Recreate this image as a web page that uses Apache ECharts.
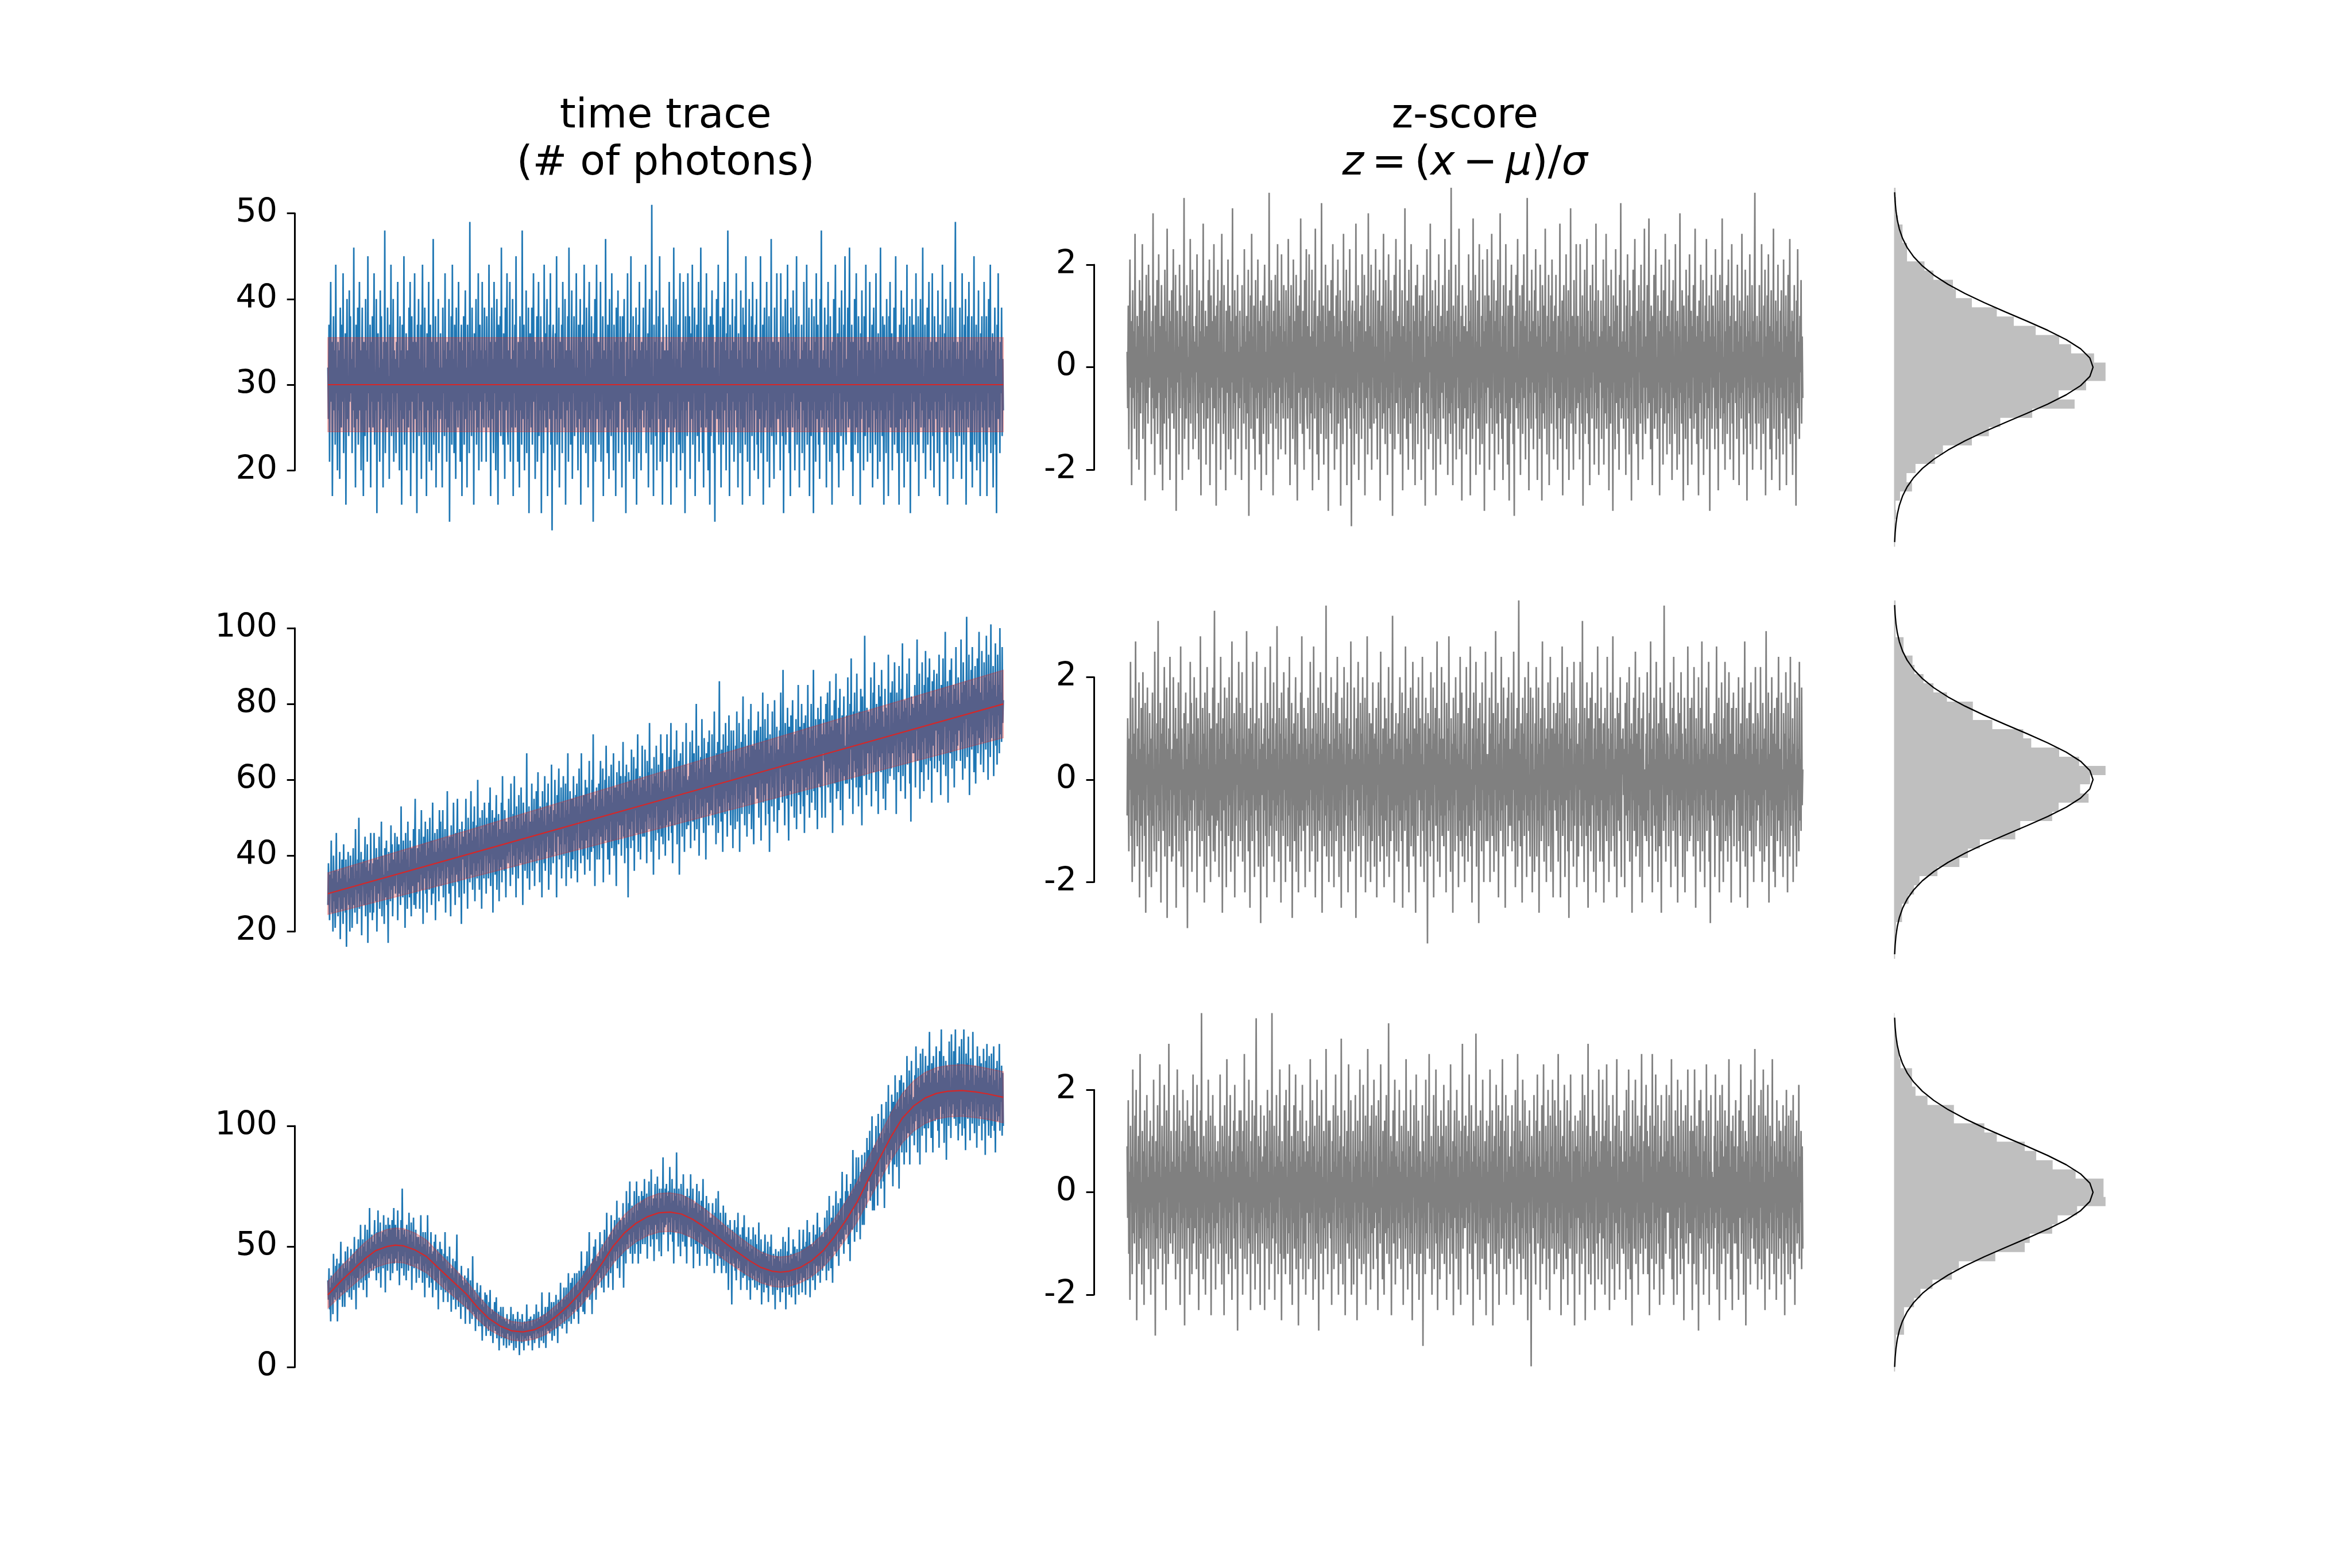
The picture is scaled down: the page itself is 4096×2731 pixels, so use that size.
<!DOCTYPE html>
<html><head><meta charset="utf-8">
<script src="https://cdn.jsdelivr.net/npm/echarts@6/dist/echarts.min.js"></script>
<style>html,body{margin:0;padding:0;background:#fff}#c{width:4096px;height:2731px}</style>
</head><body><div id="c"></div>
<script>
// ---------------- data ----------------
const panelTitles = ['time trace', '(# of photons)', 'z-score'];
const traceTicks = [[20, 50, 10], [20, 100, 20], [0, 100, 50]];
const zTicks = [-2, 2, 2];

const trace1 = [
32,26,37,21,33,42,28,35,17,31,38,27,34,23,44,29,32,20,35,27,34,19,39,31,25,37,28,43,22,33,29,36,16,32,40,26,31,24,41,28,
38,29,33,22,35,27,46,25,32,18,37,33,26,39,23,30,42,27,34,20,32,39,28,17,35,31,24,40,27,34,21,45,29,33,25,37,18,35,28,38,
25,33,43,23,31,27,40,15,34,36,28,32,21,41,26,38,29,33,18,35,27,48,22,32,35,25,39,28,31,19,37,26,44,24,33,29,40,21,34,28,
33,22,35,29,42,25,32,20,38,27,34,16,37,31,26,45,23,33,28,36,20,34,31,25,39,27,42,17,32,38,28,35,22,32,43,26,35,29,15,37,
29,40,24,33,27,37,19,34,44,28,31,23,39,25,32,17,36,33,27,42,21,32,37,29,20,35,28,47,23,33,26,38,18,31,35,27,40,22,32,26,
36,27,32,18,39,29,34,24,43,26,33,21,35,31,25,40,14,34,28,38,23,44,28,33,22,37,30,19,39,27,32,25,42,27,35,21,33,37,17,34,
28,38,23,33,41,26,32,18,37,29,35,22,49,27,32,24,39,28,34,16,36,27,31,40,23,33,25,43,20,31,37,28,34,21,42,26,33,25,39,29,
34,21,38,28,32,25,44,27,35,17,31,39,26,33,22,42,29,35,20,32,40,26,16,37,32,27,38,24,46,28,33,23,36,29,19,39,27,32,43,25,
23,34,28,42,21,33,31,25,40,17,34,29,37,25,45,27,32,21,35,30,18,38,27,35,23,48,26,31,37,20,33,28,41,22,34,26,39,15,32,36,
31,25,39,23,33,43,28,35,19,33,29,38,21,32,42,24,34,27,38,15,35,29,32,22,44,27,36,25,31,40,17,34,28,37,26,43,23,33,13,35,
37,27,32,20,36,26,45,23,33,29,39,18,32,35,26,37,22,42,28,33,25,40,16,34,31,27,38,21,46,28,34,23,32,41,19,33,29,38,24,32,
27,43,25,32,20,37,31,26,40,16,35,28,37,23,33,44,25,31,22,39,28,34,18,35,42,26,32,23,38,27,33,14,36,29,40,21,32,44,26,35,
32,23,35,28,42,21,33,29,38,17,34,31,25,47,27,33,22,37,28,19,40,26,34,24,43,27,31,20,37,28,35,17,39,32,25,41,22,33,28,38,
28,35,18,38,26,33,40,23,31,15,35,27,43,25,33,21,36,29,45,23,32,27,38,19,34,32,25,39,16,33,29,37,22,42,26,34,20,35,31,27,
39,25,33,28,44,22,34,27,36,18,32,40,25,32,23,51,26,31,17,37,28,35,24,41,20,33,29,38,26,45,21,33,27,35,16,39,31,23,34,29,
26,37,21,34,31,25,42,28,35,16,38,28,33,22,46,25,32,26,40,18,33,29,37,23,34,43,20,32,27,35,22,42,28,34,15,38,27,35,24,43,
33,28,38,19,32,36,26,44,23,33,29,39,17,35,27,37,24,31,42,21,34,27,46,25,32,22,35,18,39,29,34,25,43,26,32,20,37,28,16,38,
24,33,41,27,37,22,32,14,35,28,40,26,33,44,23,31,26,38,18,35,28,39,23,32,42,27,34,20,36,29,48,25,33,17,37,27,34,23,40,28,
35,21,31,38,27,43,25,33,18,36,28,34,22,41,26,32,16,39,30,25,37,23,45,28,33,21,35,29,40,17,33,27,38,24,42,29,35,20,32,37,
27,40,23,32,19,35,33,26,45,22,34,28,37,16,32,39,25,31,27,42,21,35,29,38,18,33,25,47,24,32,35,26,19,39,28,34,23,43,26,32,
35,26,32,20,43,27,34,24,38,15,33,29,40,23,32,27,44,25,36,22,33,17,39,28,35,25,41,29,34,20,37,27,45,23,32,26,38,18,33,28,
29,37,22,34,27,42,20,32,35,25,44,23,33,28,39,17,34,31,24,40,27,33,15,38,28,35,21,43,26,31,37,23,32,19,40,27,48,25,33,26,
34,23,39,28,33,18,37,27,42,25,32,21,38,28,34,16,35,29,40,23,33,44,26,31,22,36,27,18,39,29,35,24,41,26,32,20,37,28,45,25,
23,33,28,39,25,32,46,26,35,21,37,29,17,35,27,40,23,33,43,25,31,22,38,28,34,16,36,26,41,28,33,20,38,29,24,44,27,34,21,35,
32,25,42,22,34,28,37,18,33,39,27,31,23,43,26,35,19,36,28,33,21,46,27,32,24,38,29,16,37,26,34,22,40,28,33,17,38,27,42,25,
27,36,20,34,29,39,23,32,45,25,33,22,35,28,16,37,31,26,41,22,34,28,39,18,33,25,37,27,44,21,32,35,26,38,15,33,29,40,23,32,
37,28,33,21,43,26,32,23,38,17,35,29,40,25,33,27,46,22,31,25,37,19,34,28,39,23,32,42,26,34,20,35,27,43,24,32,18,38,28,35,
26,35,22,41,28,33,17,37,27,34,25,44,27,32,21,36,29,40,23,33,16,38,28,34,25,42,22,32,29,39,19,35,27,37,49,24,33,21,35,28,
33,24,39,27,35,19,43,26,31,23,37,28,40,16,33,26,38,25,42,28,34,21,32,38,18,34,27,45,23,32,29,37,20,35,27,41,22,33,17,36,
28,38,25,32,21,42,27,34,23,38,17,33,29,40,25,32,44,22,34,27,36,18,35,28,39,23,31,15,37,26,43,26,33,22,35,29,39,24,33,27];

const trace2 = [
27,38,33,23,35,30,44,25,34,20,40,28,36,21,31,46,26,33,24,36,29,41,18,34,26,39,32,22,43,29,35,25,39,16,33,30,41,27,34,20,
40,29,37,21,35,42,27,34,25,47,31,36,22,39,30,50,26,34,28,41,19,38,32,39,27,35,45,24,37,30,43,17,36,29,38,25,46,31,35,23,
38,25,46,32,39,28,42,20,36,39,30,45,26,37,33,49,24,40,31,35,22,42,29,38,44,27,36,17,41,32,38,28,48,31,43,24,35,39,32,46,
30,38,35,45,23,40,43,30,38,27,53,32,39,29,44,33,41,21,46,35,39,26,49,31,37,29,44,33,24,42,38,32,47,27,41,55,26,38,30,42,
39,33,47,26,41,35,52,31,43,22,45,38,34,49,30,40,25,47,36,42,31,50,34,44,27,39,54,30,41,36,46,23,41,32,47,37,42,28,52,34,
49,32,41,36,52,29,44,38,47,25,42,34,57,37,43,30,45,39,24,48,35,45,32,54,37,42,27,46,35,44,55,33,40,29,47,36,43,22,49,39,
39,45,30,47,37,55,34,43,26,50,40,46,33,43,57,35,44,31,49,38,53,28,45,36,48,34,60,38,42,31,50,39,47,26,52,36,43,34,54,40,
48,30,50,40,46,34,54,38,58,32,45,42,52,25,48,39,50,35,46,56,31,45,39,51,28,47,44,37,54,33,61,39,46,36,52,41,29,49,40,46,
38,55,41,46,32,59,43,49,35,51,40,61,37,47,29,53,42,50,34,56,39,47,38,58,41,48,27,54,43,49,36,51,40,67,34,46,41,53,31,49,
49,39,59,36,49,44,55,32,51,42,57,38,47,62,40,50,33,53,43,52,29,57,44,49,38,61,36,48,41,54,45,59,31,51,42,53,35,64,40,49,
38,52,46,60,41,51,29,56,45,53,63,39,50,43,58,34,54,47,61,40,50,43,59,32,52,45,67,37,51,41,57,45,34,55,49,39,61,44,53,36,
56,46,59,33,53,49,63,42,51,38,67,44,53,40,56,48,35,60,44,52,58,39,54,47,65,36,51,55,41,60,45,72,42,52,32,56,46,58,39,53,
47,59,39,54,65,45,55,42,63,33,53,48,60,44,69,47,57,39,52,61,35,56,49,64,42,54,44,67,40,52,58,46,32,62,49,57,43,65,48,54,
61,40,56,48,70,45,55,38,61,51,64,42,58,29,62,55,47,60,42,68,49,57,44,66,36,59,52,63,46,55,72,41,56,50,61,39,58,47,69,45,
53,60,45,68,49,57,38,65,51,62,47,75,50,56,41,63,52,59,35,66,50,61,44,69,53,59,46,64,39,58,48,72,45,56,67,43,57,50,62,40,
61,48,72,52,58,44,66,49,60,75,46,57,38,63,53,68,48,60,55,73,43,62,51,65,35,59,67,50,58,45,70,54,61,41,64,51,75,47,60,54,
48,61,55,70,42,64,52,73,49,61,67,44,62,56,80,47,60,51,69,40,63,55,66,50,76,53,59,46,71,55,64,39,67,54,61,70,48,73,51,62,
62,52,72,48,64,58,78,50,65,43,67,55,70,46,61,86,53,63,49,68,56,41,72,55,66,51,75,57,62,45,69,54,77,52,60,48,73,56,65,42,
73,56,62,47,69,59,78,49,65,55,75,41,66,60,70,51,64,82,54,63,48,72,57,67,45,69,59,76,51,66,56,80,47,63,69,55,43,73,58,68,
58,73,55,66,78,50,68,60,74,44,70,59,83,54,64,56,76,48,67,71,59,80,51,67,41,72,61,69,53,78,58,65,49,81,55,67,62,74,46,68,
67,52,73,63,83,57,69,54,89,59,67,48,75,61,71,55,79,59,44,74,66,57,77,53,70,81,60,67,50,72,62,76,47,69,59,85,56,67,74,51,
59,80,63,72,53,75,46,70,77,58,67,56,85,61,74,50,71,63,80,54,73,62,89,57,69,52,76,64,71,47,79,59,68,76,58,82,63,50,72,67,
76,65,72,50,80,62,69,83,58,72,63,86,54,74,66,77,46,73,64,81,59,70,88,55,75,67,57,79,63,84,52,72,62,77,48,71,82,61,69,59,
66,77,59,87,64,72,55,80,68,92,60,74,51,78,65,83,62,73,58,88,63,76,53,78,71,58,84,66,48,82,68,75,61,98,63,73,56,79,67,77,
78,60,74,67,87,53,77,69,83,62,91,64,75,57,80,68,76,51,85,66,73,82,62,89,67,78,55,74,64,84,52,79,70,77,59,93,67,73,61,83,
63,78,86,67,75,60,91,69,79,51,83,72,77,62,90,66,76,57,84,70,96,61,78,68,81,55,79,71,88,64,75,67,92,59,77,49,82,69,80,67,
79,67,85,58,82,73,97,65,78,68,88,55,80,75,62,91,70,81,57,85,71,94,64,77,67,87,60,79,92,72,65,82,54,86,69,76,89,63,79,73,
73,88,62,80,72,93,65,82,56,85,78,68,92,64,81,74,99,61,79,71,86,54,83,73,89,67,78,92,63,80,70,85,58,84,72,95,65,81,69,87,
87,73,80,65,97,70,83,60,91,75,85,63,86,76,103,66,81,71,93,56,82,74,89,68,95,72,85,62,79,90,59,84,73,92,67,80,99,71,83,64,
73,94,70,81,62,91,76,87,68,98,74,83,60,93,78,86,66,101,71,84,77,90,61,85,74,96,69,82,64,93,77,85,67,100,72,83,70,95,75,81];

const trace3 = [
36,28,41,24,33,19,38,30,35,22,47,29,35,28,42,31,45,19,37,33,43,28,39,52,31,37,25,43,32,41,25,48,36,41,31,50,34,40,29,44,
38,49,28,45,38,47,32,54,37,43,24,49,44,37,53,33,46,41,59,35,46,40,53,32,50,42,59,36,48,29,57,46,52,37,66,41,49,40,55,43,
52,40,50,61,42,51,36,56,45,65,39,54,47,60,33,52,45,56,41,63,46,55,31,59,47,54,40,62,45,51,59,36,57,47,61,39,53,66,43,51,
59,45,54,40,65,48,57,34,53,44,61,41,74,46,55,38,57,48,54,36,59,43,51,40,64,45,55,42,60,32,52,46,62,41,50,43,57,35,54,46,
43,54,37,51,46,63,40,50,35,56,42,51,29,56,43,48,37,63,40,47,33,50,41,56,35,47,29,48,43,52,36,55,32,44,37,49,24,47,40,52,
41,32,49,37,44,27,47,35,56,31,40,36,46,27,41,32,50,31,39,23,41,32,45,28,37,33,44,24,39,55,28,34,25,39,29,38,20,42,30,36,
25,34,29,38,18,35,27,37,24,41,24,30,18,36,27,32,20,46,23,29,22,32,15,28,20,35,23,29,17,31,22,34,17,26,11,28,21,25,17,31,
23,13,30,19,22,15,27,17,32,13,22,18,24,10,23,17,27,15,20,29,12,19,14,23,7,21,17,25,12,20,14,25,9,17,20,12,19,8,22,15,
14,18,9,20,13,25,10,17,14,22,7,18,14,20,8,16,12,23,11,17,5,20,14,17,10,22,13,16,7,19,12,18,11,26,13,16,9,20,13,17,
21,12,17,7,20,14,22,10,18,15,26,12,19,14,23,8,20,15,21,11,31,15,19,10,22,17,25,8,21,16,25,15,21,31,14,22,16,27,11,20,
19,27,13,23,20,30,16,24,10,28,21,27,17,35,20,25,16,28,22,33,18,28,21,33,14,29,24,39,19,27,25,35,18,30,37,23,28,20,39,24,
34,28,39,23,32,18,40,27,35,25,48,32,37,23,40,30,22,42,29,36,48,29,38,32,56,28,39,35,43,22,45,36,50,33,41,53,28,44,38,46,
34,46,39,56,37,45,33,51,41,48,31,57,42,50,38,64,41,48,33,54,46,55,39,63,44,53,32,57,48,61,44,55,48,69,41,57,50,62,37,57,
61,46,57,51,68,33,62,52,59,43,73,51,60,49,68,55,77,47,61,52,67,43,64,56,73,47,60,53,77,51,65,43,71,58,68,47,63,73,56,51,
71,57,78,51,66,59,72,45,67,55,77,59,64,50,82,57,67,53,70,44,66,76,59,70,53,79,57,66,48,74,62,70,46,74,60,87,55,67,58,74,
59,76,62,71,48,73,60,83,55,68,62,78,52,69,43,74,61,71,56,89,57,67,50,74,62,69,46,76,59,66,52,80,55,67,50,71,60,43,74,59,
64,54,71,57,80,50,66,60,74,41,66,56,68,51,62,76,47,64,54,73,42,65,56,69,50,63,78,51,60,47,66,52,71,42,60,54,68,47,62,56,
45,62,54,68,47,59,39,64,51,70,47,55,42,73,50,59,45,64,50,39,59,46,67,42,54,49,64,39,56,46,59,32,55,48,61,43,53,26,57,52,
52,43,61,40,50,36,58,45,64,41,51,44,55,32,50,40,58,37,48,63,38,49,42,54,32,50,44,58,36,48,28,53,39,49,36,58,38,45,33,55,
40,51,32,46,37,60,34,45,39,53,26,47,40,48,31,45,55,35,46,33,43,52,27,44,38,50,34,55,36,42,30,47,38,45,24,49,37,46,32,42,
48,36,44,27,49,35,41,31,54,36,43,33,52,24,43,38,48,34,58,30,43,38,47,29,45,36,53,33,42,50,26,46,41,49,35,44,30,57,36,45,
39,49,31,47,57,37,50,41,30,52,41,61,36,50,43,56,29,46,51,38,50,36,59,43,51,32,55,42,49,64,38,49,42,58,35,54,46,56,40,52,
54,42,62,48,56,36,65,45,53,40,71,46,59,41,62,51,35,67,50,60,48,59,73,46,61,55,68,42,63,52,70,51,63,81,53,61,47,68,57,73,
55,80,59,73,51,66,71,44,76,57,72,57,90,66,74,52,78,63,87,56,76,68,87,64,77,53,81,70,88,59,82,76,59,89,70,83,66,95,73,81,
90,77,98,69,85,73,104,65,83,91,65,92,80,100,75,89,67,105,79,97,87,95,74,109,81,93,77,103,66,97,92,110,84,99,88,117,80,97,86,106,
90,113,95,75,110,104,84,121,93,107,83,114,99,108,74,119,92,106,121,89,107,98,118,84,112,100,115,89,129,97,109,97,123,84,113,104,127,96,111,101,
112,92,121,102,133,105,117,89,124,99,116,84,130,107,121,96,132,104,118,99,114,129,89,121,106,125,99,116,139,103,118,95,126,111,89,129,107,122,102,117,
133,103,118,98,123,91,131,108,117,140,101,121,105,129,93,120,110,127,86,125,111,123,100,135,108,116,95,138,105,120,109,131,103,118,140,100,121,107,126,94,
109,133,101,123,111,136,96,120,105,140,99,117,90,130,108,126,103,137,107,119,94,128,110,124,101,139,106,117,97,125,112,121,91,133,109,120,100,129,104,117,
126,94,120,109,132,101,123,88,127,106,134,102,118,96,129,108,121,95,130,100,117,109,133,98,119,89,124,106,127,102,115,104,134,98,120,110,125,96,122,100];

const zscore1 = [
0.3,-0.8,1.2,-1.6,0.5,2.1,-0.4,0.9,-2.3,0.1,1.5,-0.6,0.7,-1.2,2.6,-0.2,0.4,-1.8,1.0,-0.5,0.8,-2.0,1.7,0.2,-0.9,1.3,-0.3,2.4,-1.4,0.6,-0.1,1.1,-2.6,0.4,1.8,-0.7,0.2,-1.1,2.0,-0.4,
1.4,-0.2,0.6,-1.5,0.9,-0.6,3.0,-1.0,0.3,-2.1,1.2,0.5,-0.8,1.7,-1.3,0.0,2.2,-0.5,0.8,-1.9,0.4,1.6,-0.3,-2.4,1.0,0.2,-1.1,1.9,-0.6,0.7,-1.6,2.7,-0.2,0.5,-1.0,1.3,-2.2,0.9,-0.4,1.5,
-0.9,0.6,2.3,-1.2,0.1,-0.5,1.8,-2.8,0.7,1.1,-0.3,0.4,-1.7,2.0,-0.8,1.4,-0.1,0.6,-2.2,1.0,-0.6,3.3,-1.4,0.3,0.9,-1.0,1.6,-0.4,0.2,-2.0,1.2,-0.7,2.5,-1.1,0.5,-0.2,1.9,-1.6,0.8,-0.3,
0.5,-1.4,1.0,-0.1,2.2,-0.9,0.4,-1.8,1.5,-0.5,0.7,-2.5,1.3,0.1,-0.7,2.8,-1.2,0.6,-0.3,1.1,-1.9,0.8,0.2,-1.0,1.7,-0.6,2.1,-2.3,0.4,1.4,-0.4,0.9,-1.5,0.3,2.4,-0.8,1.0,-0.2,-2.7,1.2,
-0.2,1.9,-1.1,0.5,-0.6,1.3,-2.0,0.8,2.6,-0.4,0.1,-1.3,1.6,-0.9,0.3,-2.4,1.1,0.6,-0.5,2.1,-1.6,0.4,1.2,-0.1,-1.8,0.9,-0.3,3.1,-1.2,0.6,-0.7,1.5,-2.1,0.2,1.0,-0.5,1.8,-1.4,0.3,-0.8,
1.1,-0.6,0.4,-2.2,1.6,-0.2,0.8,-1.1,2.3,-0.7,0.5,-1.6,1.0,0.2,-0.9,1.9,-2.9,0.7,-0.3,1.4,-1.2,2.6,-0.4,0.6,-1.4,1.2,0.0,-2.0,1.7,-0.6,0.3,-1.0,2.1,-0.5,0.9,-1.7,0.5,1.3,-2.4,0.8,
-0.4,1.4,-1.3,0.6,2.0,-0.8,0.3,-2.1,1.2,-0.2,0.9,-1.5,3.4,-0.6,0.4,-1.1,1.7,-0.3,0.7,-2.5,1.1,-0.5,0.2,1.8,-1.2,0.6,-0.9,2.4,-1.8,0.1,1.3,-0.4,0.8,-1.6,2.2,-0.7,0.5,-1.0,1.6,-0.2,
0.7,-1.7,1.5,-0.3,0.4,-1.0,2.5,-0.6,1.0,-2.3,0.2,1.6,-0.8,0.5,-1.4,2.1,-0.1,0.9,-1.9,0.3,1.8,-0.7,-2.6,1.2,0.4,-0.5,1.4,-1.1,2.9,-0.4,0.6,-1.3,1.1,-0.2,-2.0,1.7,-0.6,0.3,2.3,-0.9,
-1.2,0.8,-0.4,2.2,-1.6,0.6,0.1,-0.9,1.9,-2.4,0.7,-0.2,1.3,-1.0,2.7,-0.5,0.4,-1.7,1.0,0.0,-2.2,1.5,-0.6,0.9,-1.3,3.2,-0.8,0.2,1.2,-1.9,0.5,-0.3,2.0,-1.4,0.8,-0.7,1.6,-2.8,0.4,1.1,
0.2,-0.9,1.7,-1.3,0.5,2.4,-0.4,1.0,-2.0,0.6,-0.1,1.4,-1.6,0.3,2.1,-1.1,0.7,-0.5,1.5,-2.7,0.9,-0.2,0.4,-1.5,2.6,-0.6,1.1,-1.0,0.2,1.9,-2.3,0.8,-0.4,1.3,-0.8,2.3,-1.2,0.5,-3.1,1.0,
1.3,-0.5,0.3,-1.9,1.1,-0.7,2.8,-1.3,0.6,-0.1,1.6,-2.2,0.4,0.9,-0.8,1.2,-1.4,2.2,-0.3,0.5,-1.0,1.8,-2.5,0.7,0.1,-0.6,1.4,-1.7,3.0,-0.4,0.8,-1.2,0.3,2.0,-2.0,0.6,-0.2,1.5,-1.1,0.4,
-0.6,2.3,-1.0,0.4,-1.8,1.3,0.2,-0.7,1.9,-2.6,0.9,-0.3,1.2,-1.2,0.5,2.6,-0.9,0.1,-1.5,1.7,-0.4,0.7,-2.1,1.0,2.2,-0.8,0.3,-1.3,1.5,-0.5,0.6,-2.9,1.1,-0.1,1.8,-1.6,0.4,2.5,-0.7,0.9,
0.4,-1.3,1.0,-0.4,2.1,-1.7,0.6,-0.2,1.5,-2.4,0.8,0.2,-1.0,3.1,-0.6,0.5,-1.4,1.3,-0.3,-2.0,1.9,-0.8,0.7,-1.1,2.4,-0.5,0.1,-1.8,1.2,-0.3,0.9,-2.3,1.6,0.4,-0.9,2.0,-1.5,0.6,-0.4,1.4,
-0.3,0.9,-2.2,1.4,-0.7,0.5,1.8,-1.2,0.2,-2.7,1.0,-0.5,2.3,-0.9,0.6,-1.6,1.1,-0.1,2.8,-1.3,0.4,-0.6,1.5,-2.0,0.8,0.3,-1.0,1.7,-2.5,0.5,-0.2,1.2,-1.4,2.2,-0.8,0.7,-1.9,1.0,0.1,-0.5,
1.6,-1.0,0.5,-0.3,2.5,-1.5,0.8,-0.6,1.1,-2.1,0.3,1.9,-0.9,0.4,-1.3,3.5,-0.7,0.2,-2.3,1.2,-0.4,0.9,-1.1,2.0,-1.8,0.6,-0.2,1.4,-0.8,2.7,-1.6,0.5,-0.5,1.0,-2.6,1.6,0.2,-1.2,0.8,-0.1,
-0.8,1.2,-1.7,0.7,0.1,-1.0,2.2,-0.4,0.9,-2.5,1.5,-0.3,0.6,-1.4,2.9,-0.9,0.3,-0.7,1.8,-2.1,0.5,-0.2,1.3,-1.2,0.8,2.4,-1.9,0.4,-0.6,1.0,-1.5,2.1,-0.3,0.7,-2.8,1.4,-0.5,0.9,-1.1,2.3,
0.6,-0.4,1.4,-2.0,0.3,1.1,-0.8,2.6,-1.3,0.5,-0.1,1.7,-2.4,0.9,-0.6,1.3,-1.1,0.2,2.1,-1.7,0.7,-0.5,3.0,-0.9,0.4,-1.4,1.0,-2.2,1.6,-0.2,0.8,-1.0,2.4,-0.7,0.3,-1.9,1.2,-0.4,-2.6,1.5,
-1.1,0.5,2.0,-0.6,1.2,-1.5,0.4,-2.9,1.0,-0.3,1.8,-0.8,0.6,2.5,-1.2,0.1,-0.7,1.4,-2.1,0.9,-0.4,1.6,-1.3,0.3,2.2,-0.6,0.8,-1.8,1.1,-0.2,3.3,-1.0,0.5,-2.4,1.3,-0.5,0.7,-1.2,1.9,-0.3,
0.9,-1.6,0.2,1.5,-0.5,2.3,-1.0,0.6,-2.2,1.1,-0.3,0.8,-1.4,2.0,-0.7,0.4,-2.6,1.6,0.0,-0.9,1.2,-1.2,2.7,-0.4,0.5,-1.7,1.0,-0.1,1.8,-2.3,0.6,-0.6,1.4,-1.1,2.1,-0.2,0.9,-1.8,0.3,1.2,
-0.5,1.8,-1.2,0.3,-2.0,1.0,0.5,-0.8,2.8,-1.4,0.7,-0.3,1.3,-2.5,0.4,1.6,-1.0,0.2,-0.6,2.2,-1.6,0.9,-0.2,1.5,-2.2,0.6,-0.9,3.1,-1.1,0.4,1.0,-0.7,-2.0,1.7,-0.4,0.8,-1.3,2.4,-0.8,0.3,
1.0,-0.7,0.4,-1.8,2.4,-0.5,0.8,-1.1,1.4,-2.7,0.6,-0.2,1.9,-1.3,0.3,-0.6,2.5,-0.9,1.1,-1.5,0.5,-2.3,1.6,-0.4,0.9,-1.0,2.0,-0.1,0.7,-1.9,1.3,-0.5,2.8,-1.2,0.4,-0.8,1.5,-2.1,0.6,-0.3,
-0.2,1.3,-1.4,0.7,-0.6,2.1,-1.9,0.3,1.0,-0.9,2.6,-1.2,0.5,-0.4,1.6,-2.4,0.8,0.1,-1.1,1.9,-0.5,0.6,-2.8,1.4,-0.3,0.9,-1.6,2.3,-0.7,0.2,1.2,-1.3,0.4,-2.0,1.8,-0.6,3.2,-1.0,0.5,-0.8,
0.7,-1.2,1.7,-0.3,0.5,-2.1,1.2,-0.6,2.2,-1.0,0.3,-1.7,1.5,-0.4,0.8,-2.6,1.0,-0.2,1.9,-1.3,0.6,2.5,-0.8,0.2,-1.5,1.1,-0.5,-2.2,1.6,-0.1,0.9,-1.1,2.0,-0.7,0.4,-1.8,1.3,-0.4,2.7,-0.9,
-1.3,0.6,-0.4,1.6,-1.0,0.3,2.9,-0.7,0.9,-1.6,1.2,-0.2,-2.3,1.0,-0.6,1.8,-1.2,0.5,2.3,-0.9,0.2,-1.4,1.4,-0.3,0.7,-2.5,1.1,-0.8,2.0,-0.4,0.6,-1.9,1.5,-0.1,-1.1,2.6,-0.5,0.8,-1.7,1.0,
0.4,-0.9,2.1,-1.5,0.7,-0.3,1.3,-2.2,0.5,1.7,-0.6,0.2,-1.3,2.4,-0.8,0.9,-2.0,1.1,-0.4,0.6,-1.7,3.0,-0.5,0.3,-1.1,1.5,-0.2,-2.6,1.2,-0.7,0.8,-1.4,1.9,-0.3,0.5,-2.3,1.4,-0.6,2.2,-1.0,
-0.6,1.1,-1.9,0.8,-0.2,1.6,-1.2,0.4,2.7,-0.9,0.6,-1.5,1.0,-0.4,-2.5,1.3,0.1,-0.7,2.0,-1.4,0.7,-0.3,1.7,-2.1,0.5,-1.0,1.2,-0.5,2.5,-1.6,0.3,0.9,-0.8,1.4,-2.8,0.6,-0.2,1.8,-1.2,0.4,
1.2,-0.4,0.6,-1.6,2.3,-0.8,0.3,-1.2,1.5,-2.4,0.9,-0.1,1.8,-1.0,0.5,-0.6,2.9,-1.5,0.2,-0.9,1.3,-2.0,0.7,-0.3,1.6,-1.3,0.4,2.1,-0.7,0.8,-1.8,1.0,-0.5,2.4,-1.1,0.3,-2.2,1.4,-0.4,0.9,
-0.7,0.9,-1.4,2.0,-0.3,0.5,-2.3,1.3,-0.6,0.8,-1.0,2.6,-0.5,0.3,-1.7,1.1,-0.2,1.9,-1.2,0.6,-2.6,1.4,-0.4,0.7,-0.9,2.2,-1.5,0.4,-0.1,1.6,-2.0,0.9,-0.6,1.2,3.4,-1.1,0.5,-1.6,1.0,-0.3,
0.5,-1.1,1.6,-0.5,0.9,-2.0,2.4,-0.8,0.2,-1.3,1.2,-0.3,1.9,-2.5,0.6,-0.7,1.4,-1.0,2.2,-0.4,0.8,-1.6,0.3,1.5,-2.2,0.7,-0.5,2.7,-1.2,0.4,-0.2,1.3,-1.8,0.9,-0.6,2.0,-1.4,0.5,-2.4,1.1,
-0.4,1.5,-0.9,0.3,-1.7,2.1,-0.6,0.8,-1.2,1.4,-2.3,0.6,-0.2,1.8,-1.0,0.4,2.5,-1.5,0.7,-0.5,1.1,-2.1,0.9,-0.3,1.6,-1.3,0.2,-2.7,1.3,-0.7,2.3,-0.8,0.5,-1.4,1.0,-0.1,1.7,-1.1,0.6,-0.6];

const zscore2 = [
-0.7,1.2,0.3,-1.4,0.8,-0.2,2.3,-1.1,0.5,-2.0,1.6,-0.5,0.9,-1.7,0.1,2.7,-0.8,0.4,-1.3,1.0,-0.3,1.9,-2.3,0.6,-0.9,1.4,0.2,-1.6,2.1,-0.4,0.7,-1.1,1.5,-2.6,0.3,-0.1,1.8,-0.7,0.5,-1.9,
1.3,-0.6,0.8,-2.1,0.4,1.7,-0.9,0.2,-1.4,2.5,-0.3,0.6,-1.8,1.1,-0.5,3.1,-1.2,0.3,-0.8,1.5,-2.4,0.9,-0.1,1.2,-1.0,0.5,2.2,-1.5,0.7,-0.4,1.8,-2.7,0.6,-0.6,1.0,-1.3,2.4,-0.2,0.4,-1.6,
0.6,-1.5,2.0,-0.3,0.9,-1.1,1.4,-2.5,0.3,0.8,-0.7,1.9,-1.4,0.5,-0.2,2.6,-1.7,1.0,-0.5,0.2,-2.1,1.3,-0.8,0.6,1.7,-1.2,0.4,-2.9,1.1,-0.3,0.7,-1.0,2.3,-0.6,1.5,-1.8,0.1,0.9,-0.4,2.0,
-1.0,0.4,-0.2,1.6,-2.2,0.7,1.2,-0.9,0.3,-1.5,2.8,-0.6,0.5,-1.2,1.4,-0.4,0.9,-2.4,1.7,-0.1,0.6,-1.7,2.2,-0.8,0.2,-1.1,1.3,-0.5,-2.0,1.0,0.4,-0.7,1.8,-1.4,0.8,3.3,-1.6,0.3,-0.9,1.1,
0.2,-0.8,1.5,-1.9,0.6,-0.4,2.4,-1.0,0.9,-2.6,1.2,0.1,-0.6,1.8,-1.3,0.4,-2.1,1.6,-0.3,0.7,-1.1,2.0,-0.5,1.0,-1.8,0.3,2.7,-1.2,0.6,-0.2,1.3,-2.3,0.5,-0.9,1.6,-0.1,0.8,-1.5,2.3,-0.6,
1.5,-1.2,0.3,-0.5,2.1,-1.6,0.8,-0.2,1.3,-2.2,0.5,-0.8,2.9,-0.4,0.6,-1.4,1.0,-0.1,-2.5,1.4,-0.7,0.9,-1.2,2.3,-0.3,0.4,-1.9,1.1,-0.6,0.7,2.5,-1.0,0.2,-1.7,1.2,-0.5,0.6,-2.8,1.5,0.0,
-0.3,0.7,-1.7,1.0,-0.6,2.2,-1.1,0.4,-2.3,1.5,-0.2,0.8,-1.3,0.3,2.6,-0.9,0.5,-1.5,1.2,-0.4,1.9,-2.0,0.6,-0.7,1.1,-1.0,3.0,-0.5,0.2,-1.6,1.4,-0.3,0.9,-2.4,1.7,-0.8,0.4,-1.1,2.1,-0.2,
0.8,-2.0,1.2,-0.4,0.5,-1.3,1.8,-0.7,2.4,-1.6,0.3,-0.1,1.5,-2.7,0.9,-0.5,1.1,-1.2,0.6,2.0,-1.8,0.4,-0.6,1.3,-2.2,0.7,0.2,-0.9,1.7,-1.4,2.8,-0.6,0.5,-1.0,1.4,-0.3,-2.1,1.0,-0.4,0.6,
-0.9,1.6,-0.5,0.3,-1.8,2.3,-0.2,0.7,-1.4,1.0,-0.6,2.6,-1.1,0.4,-2.3,1.3,-0.3,0.9,-1.6,1.8,-0.8,0.5,-1.0,2.1,-0.4,0.6,-2.6,1.5,-0.1,0.8,-1.3,1.1,-0.7,3.4,-1.5,0.3,-0.5,1.4,-2.0,0.7,
0.5,-1.0,2.0,-1.5,0.4,-0.3,1.3,-2.1,0.8,-0.6,1.7,-1.2,0.2,2.4,-0.9,0.6,-1.9,1.1,-0.4,0.9,-2.5,1.6,-0.2,0.5,-1.1,2.2,-1.4,0.3,-0.7,1.2,-0.1,1.9,-2.2,0.7,-0.5,1.0,-1.6,2.7,-0.8,0.4,
-1.4,0.6,-0.2,1.8,-1.0,0.5,-2.7,1.2,-0.4,0.8,2.3,-1.3,0.4,-0.7,1.5,-1.9,0.9,-0.1,2.0,-1.1,0.3,-0.6,1.6,-2.2,0.7,-0.3,2.8,-1.6,0.5,-0.9,1.3,-0.4,-2.0,1.1,0.2,-1.2,1.9,-0.5,0.8,-1.7,
0.9,-0.4,1.4,-2.3,0.6,-0.1,1.9,-1.1,0.3,-1.6,2.5,-0.7,0.5,-1.3,1.0,-0.2,-2.1,1.6,-0.8,0.4,1.2,-1.5,0.7,-0.3,2.2,-1.9,0.2,0.8,-1.2,1.5,-0.6,3.2,-1.0,0.4,-2.4,0.9,-0.5,1.3,-1.4,0.6,
-0.5,1.1,-1.6,0.4,2.0,-0.8,0.6,-1.2,1.7,-2.5,0.3,-0.4,1.3,-1.0,2.6,-0.6,0.8,-1.7,0.2,1.4,-2.2,0.7,-0.3,1.8,-1.3,0.5,-0.9,2.3,-1.5,0.1,1.0,-0.7,-2.6,1.6,-0.2,0.9,-1.1,2.0,-0.4,0.5,
1.2,-1.7,0.5,-0.6,2.4,-1.0,0.3,-2.0,1.1,-0.2,1.6,-1.4,0.7,-3.2,1.3,0.4,-0.8,1.0,-1.5,2.1,-0.5,0.6,-1.2,1.8,-2.3,0.9,-0.1,1.4,-0.9,0.3,2.7,-1.6,0.5,-0.4,1.2,-1.9,0.8,-0.7,2.2,-1.1,
-0.2,0.8,-1.3,1.9,-0.7,0.4,-2.2,1.5,-0.4,1.0,-1.0,2.8,-0.6,0.3,-1.8,1.2,-0.3,0.7,-2.6,1.6,-0.5,0.9,-1.4,2.0,-0.2,0.6,-1.1,1.3,-2.1,0.5,-0.8,2.4,-1.2,0.2,1.7,-1.5,0.4,-0.6,1.1,-2.0,
0.7,-1.1,2.2,-0.5,0.3,-1.6,1.4,-0.9,0.6,2.6,-1.3,0.2,-2.4,1.0,-0.4,1.7,-1.0,0.5,-0.1,2.3,-1.7,0.8,-0.6,1.2,-2.8,0.4,1.5,-0.8,0.3,-1.4,1.9,-0.2,0.7,-2.0,1.1,-0.6,2.5,-1.2,0.5,-0.3,
-1.2,0.5,-0.3,1.6,-2.0,0.9,-0.7,2.1,-1.1,0.4,1.3,-1.8,0.6,-0.2,2.9,-1.4,0.3,-0.8,1.5,-2.3,0.7,-0.4,1.1,-1.0,2.4,-0.6,0.2,-1.5,1.8,-0.3,0.8,-2.5,1.2,-0.5,0.4,1.6,-1.3,2.0,-0.9,0.6,
0.3,-0.9,1.7,-1.4,0.6,-0.2,2.5,-1.2,0.8,-2.1,1.0,-0.5,1.4,-1.7,0.2,3.5,-0.8,0.5,-1.3,1.1,-0.4,-2.4,1.6,-0.6,0.9,-1.1,2.0,-0.3,0.4,-1.9,1.3,-0.7,2.3,-1.0,0.1,-1.5,1.8,-0.4,0.7,-2.2,
1.6,-0.6,0.2,-1.8,1.1,-0.3,2.2,-1.5,0.5,-0.8,1.8,-2.6,0.7,-0.1,1.2,-1.2,0.4,2.7,-0.9,0.3,-1.6,1.4,-0.5,0.8,-2.0,1.0,-0.2,1.9,-1.3,0.6,-0.6,2.4,-1.8,0.3,1.0,-0.7,-2.3,1.5,-0.4,0.9,
-0.6,1.3,-1.0,0.4,2.0,-1.6,0.7,-0.3,1.5,-2.3,0.9,-0.5,2.6,-1.1,0.2,-0.8,1.7,-1.9,0.5,1.1,-0.4,2.2,-1.4,0.6,-2.7,1.2,-0.2,0.8,-1.2,1.9,-0.6,0.3,-1.7,2.3,-0.9,0.5,-0.1,1.4,-2.1,0.7,
0.4,-1.5,1.1,-0.2,2.3,-0.9,0.6,-1.3,3.1,-0.7,0.3,-2.0,1.4,-0.4,0.8,-1.1,1.9,-0.6,-2.5,1.2,0.2,-0.9,1.6,-1.4,0.7,2.1,-0.5,0.4,-1.8,1.0,-0.3,1.5,-2.2,0.6,-0.7,2.6,-1.0,0.3,1.2,-1.6,
-0.8,1.8,-0.4,0.7,-1.6,1.1,-2.4,0.5,1.4,-0.9,0.2,-1.2,2.4,-0.6,1.0,-2.0,0.6,-0.3,1.7,-1.4,0.9,-0.5,2.8,-1.1,0.4,-1.7,1.2,-0.2,0.6,-2.3,1.6,-0.8,0.3,1.3,-1.0,2.0,-0.4,-1.9,0.8,0.1,
1.0,-0.3,0.6,-2.1,1.5,-0.7,0.2,1.9,-1.2,0.5,-0.6,2.2,-1.6,0.8,-0.2,1.1,-2.6,0.7,-0.4,1.6,-1.0,0.3,2.5,-1.5,0.9,-0.1,-1.3,1.4,-0.5,2.0,-1.9,0.6,-0.7,1.2,-2.4,0.4,1.7,-0.8,0.2,-1.1,
-0.4,0.9,-1.2,2.1,-0.6,0.3,-1.7,1.3,-0.2,2.7,-1.1,0.6,-2.2,1.0,-0.5,1.6,-0.9,0.4,-1.4,2.3,-0.7,0.8,-2.0,1.1,0.2,-1.3,1.8,-0.4,-2.6,1.5,-0.1,0.7,-1.0,3.4,-0.8,0.5,-1.6,1.2,-0.3,0.9,
0.8,-1.3,0.4,-0.5,1.9,-2.1,0.7,-0.2,1.4,-1.0,2.4,-0.8,0.5,-1.7,1.1,-0.3,0.6,-2.4,1.7,-0.6,0.2,1.3,-1.1,2.1,-0.4,0.9,-1.9,0.4,-0.8,1.6,-2.2,1.0,-0.1,0.7,-1.4,2.6,-0.5,0.3,-1.2,1.4,
-1.1,0.6,1.6,-0.7,0.3,-1.5,2.2,-0.4,0.8,-2.5,1.2,-0.1,0.5,-1.2,2.0,-0.8,0.4,-1.8,1.4,-0.3,2.7,-1.4,0.6,-0.5,1.0,-2.1,0.7,-0.2,1.8,-1.0,0.3,-0.6,2.3,-1.6,0.5,-2.8,1.1,-0.4,0.9,-0.7,
0.5,-0.8,1.3,-1.9,0.9,-0.2,2.6,-1.1,0.4,-0.7,1.6,-2.2,0.7,0.1,-1.4,1.9,-0.5,0.8,-2.0,1.2,-0.4,2.3,-1.2,0.3,-0.9,1.5,-1.6,0.6,2.1,-0.3,-1.1,0.9,-2.4,1.4,-0.6,0.2,1.7,-1.3,0.5,-0.2,
-0.3,1.4,-1.6,0.5,-0.4,2.0,-1.2,0.7,-2.3,1.1,0.3,-0.9,1.8,-1.4,0.6,-0.2,2.7,-1.7,0.4,-0.6,1.2,-2.5,0.8,-0.3,1.5,-1.0,0.2,1.9,-1.5,0.5,-0.7,1.1,-2.0,0.9,-0.4,2.2,-1.3,0.6,-0.8,1.3,
1.1,-0.5,0.3,-1.4,2.2,-0.9,0.6,-2.0,1.5,-0.3,0.8,-1.6,1.0,-0.2,2.9,-1.3,0.4,-0.7,1.7,-2.4,0.5,-0.4,1.3,-1.1,2.0,-0.6,0.9,-1.8,0.2,1.4,-2.1,0.7,-0.5,1.6,-1.2,0.3,2.4,-0.8,0.6,-1.5,
-0.7,1.7,-1.0,0.2,-1.9,1.3,-0.4,0.9,-1.3,2.1,-0.6,0.4,-2.2,1.5,-0.1,0.8,-1.5,2.4,-0.9,0.5,-0.3,1.2,-2.0,0.7,-0.6,1.9,-1.1,0.3,-1.7,1.6,-0.2,0.6,-1.4,2.3,-0.8,0.4,-1.0,1.8,-0.5,0.2];

const zscore3 = [
0.9,-0.5,1.8,-1.2,0.4,-2.1,1.3,-0.2,0.7,-1.6,2.4,-0.8,0.3,-1.0,1.5,-0.4,2.0,-2.5,0.6,-0.1,1.1,-1.4,0.5,2.7,-0.9,0.2,-1.8,1.2,-0.6,0.8,-2.2,1.6,-0.3,0.5,-1.1,1.9,-0.7,0.3,-1.5,1.0,
-0.4,1.4,-2.0,0.7,-0.3,1.1,-1.3,2.2,-0.6,0.4,-2.8,1.0,0.2,-0.9,1.7,-1.5,0.6,-0.2,2.5,-1.1,0.3,-0.7,1.3,-1.8,0.9,-0.4,2.1,-1.2,0.5,-2.3,1.6,-0.1,0.8,-1.4,2.9,-0.8,0.4,-1.0,1.2,-0.5,
0.6,-1.2,0.3,1.9,-0.8,0.5,-1.7,1.2,-0.4,2.4,-1.4,0.7,-0.2,1.6,-2.2,0.4,-0.6,1.0,-1.1,2.0,-0.5,0.8,-2.6,1.4,-0.3,0.6,-1.3,1.8,-0.7,0.2,1.3,-2.0,0.9,-0.5,1.5,-1.6,0.4,2.3,-1.0,0.1,
1.2,-0.7,0.5,-1.5,2.1,-0.3,0.9,-2.3,0.4,-0.9,1.6,-1.2,3.5,-0.5,0.7,-1.7,1.1,-0.2,0.6,-2.0,1.4,-0.8,0.3,-1.3,2.2,-0.6,0.8,-1.0,1.5,-2.4,0.5,-0.4,1.9,-1.1,0.2,-0.7,1.3,-1.9,0.8,-0.3,
-0.6,1.0,-1.4,0.6,-0.2,2.3,-1.0,0.4,-1.8,1.3,-0.5,0.9,-2.4,1.7,-0.3,0.5,-1.2,2.6,-0.7,0.3,-1.6,1.1,-0.4,1.9,-1.3,0.6,-2.1,0.8,-0.1,1.4,-0.9,2.1,-1.5,0.4,-0.6,1.2,-2.7,0.9,-0.2,1.6,
0.3,-1.1,1.6,-0.4,0.8,-2.0,1.2,-0.7,2.7,-1.3,0.5,-0.2,1.4,-1.6,0.6,-0.9,2.2,-1.0,0.3,-2.3,1.0,-0.5,1.8,-1.2,0.4,-0.3,1.5,-1.9,0.7,3.4,-0.8,0.2,-1.4,1.1,-0.6,0.9,-2.2,1.7,-0.4,0.6,
-1.0,0.7,-0.3,1.5,-2.3,0.9,-0.5,1.2,-1.1,2.0,-0.7,0.4,-1.9,1.6,-0.2,0.8,-1.4,3.5,-0.9,0.3,-0.6,1.3,-2.1,0.5,-1.0,1.9,-0.4,0.7,-1.6,1.1,-0.1,2.4,-1.2,0.6,-2.5,1.0,-0.3,0.5,-1.3,1.7,
0.5,-1.6,2.0,-0.5,0.3,-1.2,1.4,-0.8,2.5,-1.8,0.6,-0.3,1.1,-2.2,0.8,-0.6,1.7,-1.1,0.2,2.3,-1.5,0.4,-0.9,1.2,-2.6,0.7,-0.2,1.6,-1.3,0.5,-0.5,2.1,-1.7,0.3,1.0,-1.0,0.6,-2.0,1.4,-0.4,
-0.2,0.8,-1.5,1.1,-0.6,2.6,-1.3,0.5,-0.4,1.8,-2.1,0.9,-0.1,1.3,-1.7,0.4,-0.8,2.2,-1.0,0.6,-2.7,1.5,-0.3,0.7,-1.2,2.0,-0.5,0.3,-1.9,1.2,-0.7,0.9,-1.1,2.8,-0.4,0.2,-1.6,1.4,-0.6,0.4,
1.4,-0.9,0.4,-2.2,1.0,-0.4,1.7,-1.5,0.6,-0.1,2.3,-1.2,0.5,-0.7,1.5,-2.0,0.8,-0.3,1.1,-1.4,3.0,-0.6,0.3,-1.8,0.9,-0.2,1.6,-2.4,0.7,-0.5,1.2,-1.0,0.4,2.5,-1.3,0.6,-0.8,1.8,-2.0,0.2,
-0.5,1.2,-1.8,0.5,-0.2,1.9,-1.1,0.7,-2.5,1.4,-0.4,0.8,-1.3,2.4,-0.6,0.3,-1.6,1.0,-0.2,2.1,-1.4,0.6,-0.9,1.5,-2.2,0.8,-0.3,2.8,-1.2,0.4,-0.6,1.3,-1.9,0.5,1.7,-0.8,0.1,-1.5,2.2,-0.7,
0.7,-0.4,1.5,-1.3,0.3,-2.3,1.8,-0.6,0.9,-1.0,2.5,-0.3,0.6,-1.7,1.2,-0.5,-2.0,1.4,-0.8,0.4,1.9,-1.2,0.2,-0.7,3.3,-1.4,0.5,-0.2,1.1,-2.4,0.8,-0.6,1.6,-1.0,0.3,2.2,-1.8,0.7,-0.3,1.0,
-1.3,0.5,-0.6,2.0,-0.9,0.4,-1.5,1.3,-0.2,0.8,-2.2,1.6,-0.5,0.6,-1.1,2.6,-0.7,0.3,-1.9,1.2,-0.4,0.9,-1.4,2.0,-0.8,0.5,-2.5,1.1,-0.1,1.7,-1.2,0.4,-0.6,2.3,-1.6,0.7,-0.3,1.4,-2.1,0.6,
0.8,-1.2,0.3,-0.5,1.7,-3.0,1.0,-0.4,0.6,-1.6,2.2,-0.8,0.4,-1.1,1.5,-0.2,2.7,-1.3,0.5,-0.6,1.1,-2.0,0.7,-0.3,1.9,-1.5,0.2,-0.8,2.4,-1.0,0.6,-2.3,1.3,-0.4,0.9,-1.7,0.3,1.6,-0.6,-1.2,
1.1,-0.6,2.1,-1.4,0.5,-0.3,1.3,-2.1,0.7,-0.9,1.8,-0.4,0.2,-1.6,2.5,-0.7,0.6,-1.2,1.0,-2.4,0.4,1.6,-0.5,0.9,-1.3,2.0,-0.8,0.3,-1.9,1.4,-0.2,0.7,-2.2,1.2,-0.5,2.9,-1.1,0.4,-0.7,1.3,
-0.7,1.5,-0.3,0.8,-2.0,1.1,-0.6,2.3,-1.2,0.4,-0.2,1.7,-1.5,0.6,-2.6,1.2,-0.4,0.9,-1.0,3.1,-0.8,0.5,-1.7,1.3,-0.1,0.7,-2.1,1.6,-0.5,0.3,-1.3,2.2,-0.9,0.6,-1.6,1.0,-0.3,-2.4,1.4,-0.5,
0.4,-1.0,1.3,-0.6,2.4,-1.4,0.6,-0.2,1.6,-2.6,0.8,-0.5,1.1,-1.2,0.3,2.1,-1.6,0.5,-0.8,1.7,-2.2,0.9,-0.3,1.4,-1.1,0.6,2.6,-0.9,0.2,-1.5,1.2,-0.6,1.9,-2.0,0.4,-0.4,1.5,-1.3,0.7,-0.1,
-1.4,0.9,-0.2,1.7,-1.1,0.5,-2.2,1.2,-0.6,2.0,-0.9,0.3,-1.5,2.7,-0.4,0.8,-1.2,1.4,-0.5,-2.0,1.0,-0.7,2.2,-1.3,0.4,-0.3,1.8,-1.7,0.6,-0.8,1.3,-2.5,0.7,-0.2,1.6,-1.0,0.5,-3.4,1.1,0.3,
0.6,-0.7,1.9,-1.2,0.3,-1.8,1.4,-0.4,2.3,-1.0,0.7,-0.3,1.2,-2.1,0.5,-0.9,1.7,-1.4,0.2,2.5,-1.1,0.6,-0.5,1.3,-1.9,0.8,-0.2,2.0,-1.3,0.4,-2.3,1.5,-0.6,0.9,-1.1,2.2,-0.8,0.3,-1.6,1.8,
-0.3,1.3,-1.5,0.6,-0.8,2.7,-1.2,0.4,-0.5,1.6,-2.4,0.9,-0.2,1.1,-1.7,0.5,2.1,-1.0,0.7,-1.3,0.3,1.8,-2.2,0.6,-0.4,1.4,-1.1,2.3,-0.7,0.2,-1.6,1.2,-0.3,0.8,-2.6,1.5,-0.5,0.9,-1.2,0.4,
1.4,-0.5,0.8,-2.0,1.6,-0.7,0.3,-1.4,2.3,-0.6,0.5,-1.1,1.9,-2.5,0.6,-0.2,1.3,-0.9,2.9,-1.6,0.4,-0.4,1.1,-1.8,0.7,-0.6,2.0,-1.2,0.3,1.5,-2.3,0.8,-0.1,1.2,-1.0,0.5,-1.7,2.4,-0.8,0.6,
-0.6,1.0,-1.8,0.6,2.2,-0.9,1.1,-0.3,-2.0,1.4,-0.5,2.5,-1.3,0.8,-0.2,1.7,-2.3,0.3,1.0,-1.0,0.5,-1.5,1.9,-0.4,0.7,-2.1,1.3,-0.6,0.4,2.6,-1.4,0.2,-0.8,1.5,-1.9,0.9,-0.3,1.2,-1.1,0.6,
0.5,-1.2,1.6,-0.4,0.8,-2.1,2.0,-0.7,0.4,-1.5,2.4,-1.0,0.7,-1.7,1.1,-0.3,-2.6,1.8,-0.5,0.9,-1.1,0.3,2.2,-1.4,0.6,-0.2,1.5,-2.0,0.8,-0.6,1.3,-1.2,0.4,2.7,-0.9,0.2,-1.6,1.0,-0.4,1.7,
-1.1,2.1,-0.6,1.2,-1.6,0.3,0.9,-2.4,1.5,-0.8,0.5,-1.3,2.7,-0.2,0.8,-1.9,1.3,-0.6,2.3,-1.4,0.4,-0.5,1.7,-1.0,0.6,-2.2,1.1,-0.3,1.9,-1.5,0.7,-0.1,-2.0,1.4,-0.7,0.8,-1.2,2.1,-0.4,0.5,
1.0,-0.4,1.9,-1.3,0.5,-0.9,2.6,-1.7,0.2,1.1,-2.2,0.7,-0.5,1.6,-1.1,0.4,-2.0,2.2,-0.7,1.3,-0.3,0.6,-1.6,2.0,-0.9,0.4,-1.3,1.4,-2.5,0.8,-0.2,1.7,-1.0,0.5,-0.6,2.4,-1.4,0.3,-0.8,1.2,
-0.8,1.5,-0.3,-2.3,1.2,0.6,-1.4,2.4,-0.5,0.9,-1.8,1.3,-0.2,0.7,-2.7,1.8,-0.9,0.5,2.0,-1.2,0.3,-0.6,1.4,-2.0,0.8,-0.4,1.1,-1.5,2.5,-0.7,0.2,-1.0,1.6,-2.2,0.6,-0.3,1.9,-1.1,0.4,-0.6,
0.3,-1.6,1.1,-0.7,2.3,-0.4,0.8,-1.9,1.4,-1.0,0.5,-2.5,1.9,-0.3,1.0,-1.4,2.1,-0.6,0.7,-1.1,0.2,1.6,-2.1,0.9,-0.5,1.3,-1.2,0.4,2.6,-0.8,0.5,-1.7,1.2,-0.2,-2.3,1.5,-0.6,0.9,-1.0,0.4,
1.8,-1.0,0.4,-1.5,0.9,-2.1,1.6,-0.5,0.3,2.5,-1.2,0.7,-0.8,1.4,-2.0,0.6,-0.4,1.2,-2.6,1.0,-0.3,0.8,-1.3,1.9,-0.6,0.2,-1.8,2.2,-0.9,0.5,-0.5,1.5,-1.1,0.3,2.8,-1.4,0.6,-0.7,1.1,-1.9,
-0.5,1.7,-1.3,0.8,-0.3,2.0,-1.7,0.5,-0.9,2.4,-1.4,0.2,-2.3,1.5,-0.6,1.1,-1.1,2.1,-0.7,0.4,-1.9,1.3,-0.4,0.9,-1.2,2.6,-0.8,0.3,-1.6,1.0,-0.2,0.7,-2.1,1.8,-0.5,0.6,-1.3,1.4,-0.9,0.3,
1.2,-1.8,0.6,-0.4,1.7,-1.2,0.9,-2.4,1.3,-0.7,2.0,-1.0,0.5,-1.6,1.5,-0.5,0.8,-1.7,1.6,-1.2,0.4,-0.3,1.9,-1.4,0.6,-2.2,1.1,-0.6,1.4,-1.0,0.3,-0.8,2.1,-1.3,0.7,-0.2,1.2,-1.5,0.9,-1.1];

// mean (red line) and mean +/- sd band, sampled along the normalised time axis
const mean1T = [0, 1];
const mean1V = [30, 30];
const band1Lo = [24.5, 24.5];
const band1Hi = [35.5, 35.5];

const mean2T = [0, 0.25, 0.5, 0.75, 1];
const mean2V = [30, 42.5, 55, 67.5, 80];
const band2Lo = [24.5, 36.0, 47.6, 59.3, 71.1];
const band2Hi = [35.5, 49.0, 62.4, 75.7, 88.9];

const mean3T = [0,0.0201,0.0369,0.0537,0.0705,0.0872,0.0998,0.1124,0.1292,0.146,
0.1628,0.1795,0.2047,0.2215,0.2383,0.255,0.2718,0.2886,0.3054,0.3221,
0.3389,0.3557,0.3725,0.3893,0.406,0.4228,0.4396,0.4564,0.4732,0.4899,
0.5067,0.5235,0.5403,0.557,0.5738,0.5906,0.6074,0.6242,0.6409,0.6577,
0.6703,0.6829,0.6997,0.7164,0.7332,0.75,0.7668,0.7836,0.8003,0.8171,
0.8339,0.8507,0.8674,0.8842,0.901,0.9178,0.9388,0.9597,0.9765,1.0];
const mean3V = [30.0,35.9,40.3,44.7,48.3,50.0,50.6,50.3,48.6,45.9,
41.4,37.0,30.4,24.9,20.2,17.1,15.1,14.6,15.5,17.7,
21.3,25.4,30.4,36.5,43.1,50.3,55.8,59.7,62.4,64.0,
64.3,63.5,61.3,58.2,54.7,51.0,47.5,44.2,41.4,39.8,
39.4,39.8,41.4,44.2,48.3,54.1,60.8,68.5,77.9,86.7,
95.6,103.3,108.3,111.6,113.5,114.4,114.7,114.1,113.3,111.9];
const band3Lo = [24.5,29.9,34.0,38.0,41.4,42.9,43.5,43.2,41.6,39.1,
35.0,30.9,24.9,19.9,15.7,13.0,11.2,10.8,11.6,13.5,
16.7,20.4,24.9,30.5,36.5,43.2,48.3,52.0,54.5,56.0,
56.3,55.5,53.5,50.6,47.3,43.9,40.6,37.6,35.0,33.5,
33.1,33.5,35.0,37.6,41.4,46.7,53.0,60.2,69.1,77.4,
85.8,93.1,97.9,101.0,102.8,103.7,104.0,103.4,102.7,101.3];
const band3Hi = [35.5,41.9,46.6,51.4,55.2,57.1,57.7,57.4,55.6,52.7,
47.8,43.1,35.9,29.9,24.7,21.2,19.0,18.4,19.4,21.9,
25.9,30.4,35.9,42.5,49.7,57.4,63.3,67.4,70.3,72.0,
72.3,71.5,69.1,65.8,62.1,58.1,54.4,50.9,47.8,46.1,
45.7,46.1,47.8,50.9,55.2,61.5,68.6,76.8,86.7,96.0,
105.4,113.5,118.7,122.2,124.2,125.1,125.4,124.8,123.9,122.5];

// histograms of the z-scores: 39 bins over histRange, listed from the top bin (z = 3.5) down
const histRange = [-3.5, 3.5];
const hist1 = [0.003,0.004,0.003,0.008,0.017,0.017,0.026,0.026,0.061,0.079,0.118,0.124,0.156,0.206,0.240,0.284,0.331,0.355,0.401,0.424,
0.424,0.385,0.330,0.362,0.277,0.213,0.190,0.156,0.098,0.082,0.043,0.025,0.036,0.012,0.003,0.004,0.002,0.003,0.002];
const hist2 = [0.003,0.003,0.003,0.003,0.019,0.019,0.037,0.041,0.059,0.079,0.106,0.158,0.158,0.197,0.259,0.275,0.331,0.371,0.424,0.393,
0.373,0.390,0.330,0.317,0.253,0.243,0.172,0.148,0.131,0.087,0.051,0.040,0.029,0.016,0.016,0.004,0.003,0.003,0.002];
const hist3 = [0.001,0.002,0.004,0.007,0.010,0.013,0.036,0.036,0.043,0.067,0.120,0.120,0.181,0.206,0.262,0.285,0.318,0.364,0.420,0.420,
0.424,0.367,0.328,0.317,0.272,0.262,0.203,0.130,0.116,0.077,0.053,0.040,0.020,0.020,0.020,0.004,0.003,0.002,0.002];
// normal density at the bin centres (top to bottom)
const pdfCurve = [0.00119,0.00216,0.00380,0.00646,0.01064,0.01697,0.02622,0.03922,0.05681,0.07969,
0.10821,0.14230,0.18119,0.22340,0.26670,0.30831,0.34511,0.37405,0.39257,0.39894,
0.39257,0.37405,0.34511,0.30831,0.26670,0.22340,0.18119,0.14230,0.10821,0.07969,
0.05681,0.03922,0.02622,0.01697,0.01064,0.00646,0.00380,0.00216,0.00119];

// ---------------- layout ----------------
const FONT = 'DejaVu Sans';
const colLeft = [571.0, 1962.9, 3298.5];
const colWidth = [1176.2, 1176.6, 434.3];
const rowBox = [
  {c1: [371.6, 447.6], c2: [460.9, 357.3]},
  {c1: [1094.0, 528.5], c2: [1179.6, 356.7]},
  {c1: [1961.1, 420.2], c2: [1898.3, 356.7]}
];
const traces = [trace1, trace2, trace3];
const zscores = [zscore1, zscore2, zscore3];
const means = [[mean1T, mean1V, band1Lo, band1Hi], [mean2T, mean2V, band2Lo, band2Hi], [mean3T, mean3V, band3Lo, band3Hi]];
const hists = [hist1, hist2, hist3];

const grids = [], xAxes = [], yAxes = [], series = [];
for (let r = 0; r < 3; r++) {
  for (let c = 0; c < 3; c++) {
    const g = r * 3 + c;
    const box = c === 0 ? rowBox[r].c1 : rowBox[r].c2;
    grids.push({left: colLeft[c], top: box[0], width: colWidth[c], height: box[1], containLabel: false, outerBoundsMode: 'none'});
    xAxes.push({gridIndex: g, type: 'value', min: 0, max: c === 2 ? 0.5 : 1, show: false});
    if (c < 2) {
      const tk = c === 0 ? traceTicks[r] : zTicks;
      yAxes.push({gridIndex: g, type: 'value', min: tk[0], max: tk[1], interval: tk[2], position: 'left', offset: 58,
        axisLine: {show: true, onZero: false, lineStyle: {color: '#000', width: 3}},
        axisTick: {show: true, inside: false, length: 13.3, lineStyle: {color: '#000', width: 3}},
        axisLabel: {show: true, margin: 30, fontSize: 57, fontFamily: FONT, color: '#000', showMinLabel: true, showMaxLabel: true},
        splitLine: {show: false}});
    } else {
      yAxes.push({gridIndex: g, type: 'value', min: zTicks[0], max: zTicks[1], show: false});
    }
  }
}

for (let r = 0; r < 3; r++) {
  const g1 = r * 3, g2 = r * 3 + 1, g3 = r * 3 + 2;
  const tr = traces[r];
  series.push({type: 'line', xAxisIndex: g1, yAxisIndex: g1, data: tr.map((v, i) => [i / (tr.length - 1), v]),
    symbol: 'none', lineStyle: {color: '#1f77b4', width: 2.7}, clip: false, silent: true, z: 2});
  const [mT, mV, bLo, bHi] = means[r];
  series.push({type: 'custom', xAxisIndex: g1, yAxisIndex: g1, data: [[0, mV[0]]], clip: false, silent: true, z: 3,
    renderItem: function (params, api) {
      const pts = [];
      for (let k = 0; k < mT.length; k++) pts.push(api.coord([mT[k], bHi[k]]));
      for (let k = mT.length - 1; k >= 0; k--) pts.push(api.coord([mT[k], bLo[k]]));
      return {type: 'polygon', shape: {points: pts}, style: {fill: 'rgba(214,39,40,0.3)', stroke: 'rgba(214,39,40,0.3)', lineWidth: 2}};
    }});
  series.push({type: 'line', xAxisIndex: g1, yAxisIndex: g1, data: mT.map((t, k) => [t, mV[k]]),
    symbol: 'none', lineStyle: {color: '#d62728', width: 2.2}, clip: false, silent: true, z: 4});

  const zs = zscores[r];
  series.push({type: 'line', xAxisIndex: g2, yAxisIndex: g2, data: zs.map((v, i) => [i / (zs.length - 1), v]),
    symbol: 'none', lineStyle: {color: '#808080', width: 2.7}, clip: false, silent: true, z: 2});

  const h = hists[r];
  series.push({type: 'custom', xAxisIndex: g3, yAxisIndex: g3, data: [[0, 0]], clip: false, silent: true, z: 2,
    renderItem: function (params, api) {
      const w = (histRange[1] - histRange[0]) / h.length;
      const pts = [api.coord([0, histRange[1]])];
      h.forEach((d, k) => {
        const top = histRange[1] - k * w;
        pts.push(api.coord([d, top]));
        pts.push(api.coord([d, top - w]));
      });
      pts.push(api.coord([0, histRange[0]]));
      return {type: 'polygon', shape: {points: pts}, style: {fill: '#bfbfbf'}};
    }});
  const wBin = (histRange[1] - histRange[0]) / pdfCurve.length;
  series.push({type: 'line', xAxisIndex: g3, yAxisIndex: g3,
    data: pdfCurve.map((p, k) => [p, histRange[1] - wBin / 2 - k * wBin]),
    symbol: 'none', lineStyle: {color: '#000', width: 2.3}, clip: false, silent: true, z: 3});
}

const titleFont = '71.5px "DejaVu Sans"';
const cx1 = colLeft[0] + colWidth[0] / 2, cx2 = colLeft[1] + colWidth[1] / 2;
const line1Y = 203.5, line2Y = 285.5;
function txt(x, y, style) {
  return {type: 'text', x: x, y: y, silent: true,
    style: Object.assign({fill: '#000', font: titleFont, align: 'center', verticalAlign: 'middle', textAlign: 'center', textVerticalAlign: 'middle'}, style)};
}
const richMath = {
  i: {fontFamily: FONT, fontSize: 71.5, fontStyle: 'italic', fill: '#000'},
  n: {fontFamily: FONT, fontSize: 71.5, fill: '#000'}
};
const graphics = [
  txt(cx1, line1Y, {text: panelTitles[0]}),
  txt(cx1, line2Y, {text: panelTitles[1]}),
  txt(cx2, line1Y, {text: panelTitles[2]}),
  txt(cx2, line2Y, {text: '{i|z}{n|\u2009=\u2009(}{i|x}{n|\u2009\u2212\u2009}{i|\u03bc}{n|)/}{i|\u03c3}', rich: richMath})
];

const chart = echarts.init(document.getElementById('c'), null, {renderer: 'canvas', width: 4096, height: 2731});
chart.setOption({
  backgroundColor: '#ffffff',
  animation: false,
  grid: grids,
  xAxis: xAxes,
  yAxis: yAxes,
  series: series,
  graphic: {elements: graphics}
});
</script>
</body></html>
